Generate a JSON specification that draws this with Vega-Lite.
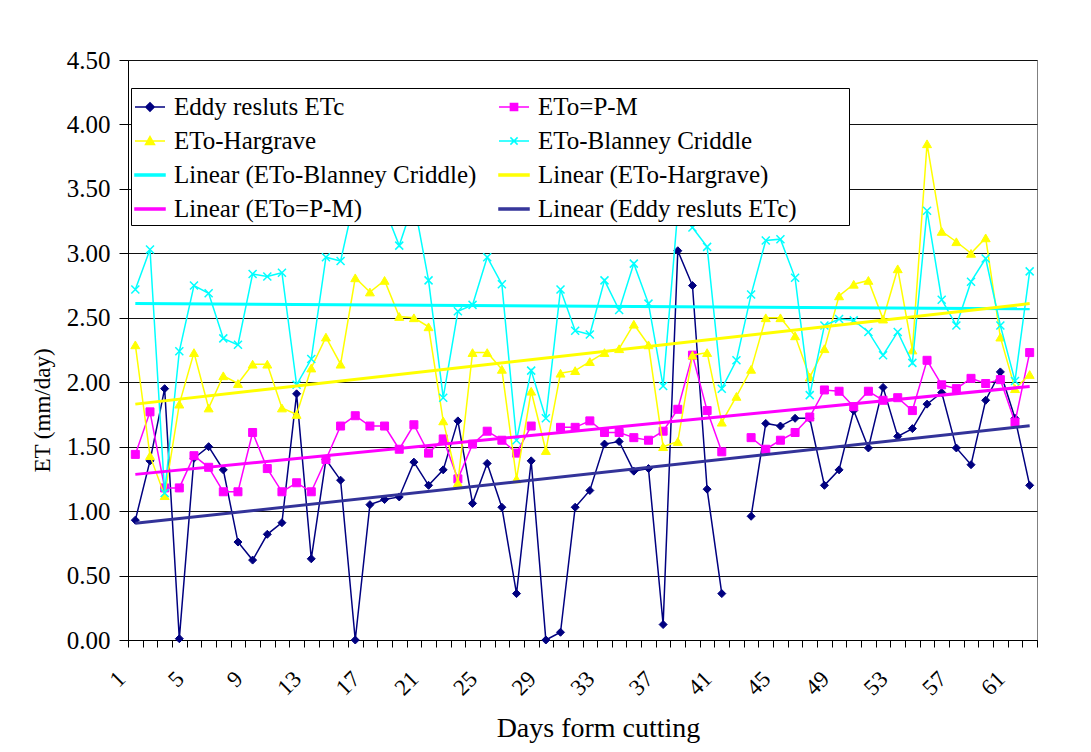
{
  "$schema": "https://vega.github.io/schema/vega-lite/v6.json",
  "width": 909,
  "height": 580,
  "autosize": {"type": "none"},
  "padding": {"left": 128, "top": 60, "right": 54, "bottom": 112},
  "background": "white",
  "config": {
    "font": "Liberation Serif",
    "view": {"stroke": "#808080", "strokeWidth": 1},
    "axis": {
      "labelFont": "Liberation Serif",
      "titleFont": "Liberation Serif",
      "labelColor": "#000000",
      "titleColor": "#000000",
      "titleFontWeight": "normal",
      "domainColor": "#000000",
      "domainWidth": 1,
      "tickColor": "#000000",
      "tickWidth": 1
    },
    "legend": {
      "orient": "none",
      "legendX": 3,
      "legendY": 28,
      "columns": 2,
      "gridAlign": "each",
      "fillColor": "white",
      "strokeColor": "#000000",
      "strokeWidth": 1,
      "padding": 3,
      "columnPadding": 19,
      "rowPadding": 5,
      "symbolSize": 900,
      "symbolStrokeWidth": 1.5,
      "symbolOpacity": 1,
      "labelFont": "Liberation Serif",
      "labelFontSize": 25,
      "labelColor": "#000000",
      "labelOffset": 8,
      "labelLimit": 600,
      "titleOrient": "right",
      "titleOpacity": 0,
      "titleFontSize": 15,
      "titlePadding": 6,
      "titleFont": "Liberation Serif"
    }
  },
  "resolve": {"legend": {"fill": "independent", "stroke": "independent", "shape": "independent"}},
  "datasets": {
    "et": [
      {"day": 1, "eddy": 0.93, "pm": 1.44, "hg": 2.29, "bc": 2.72},
      {"day": 2, "eddy": 1.39, "pm": 1.77, "hg": 1.43, "bc": 3.03},
      {"day": 3, "eddy": 1.95, "pm": 1.18, "hg": 1.12, "bc": 1.14},
      {"day": 4, "eddy": 0.01, "pm": 1.18, "hg": 1.83, "bc": 2.24},
      {"day": 5, "eddy": 1.41, "pm": 1.43, "hg": 2.23, "bc": 2.75},
      {"day": 6, "eddy": 1.50, "pm": 1.34, "hg": 1.80, "bc": 2.69},
      {"day": 7, "eddy": 1.32, "pm": 1.15, "hg": 2.05, "bc": 2.34},
      {"day": 8, "eddy": 0.76, "pm": 1.15, "hg": 1.99, "bc": 2.29},
      {"day": 9, "eddy": 0.62, "pm": 1.61, "hg": 2.14, "bc": 2.84},
      {"day": 10, "eddy": 0.82, "pm": 1.33, "hg": 2.14, "bc": 2.82},
      {"day": 11, "eddy": 0.91, "pm": 1.15, "hg": 1.80, "bc": 2.85},
      {"day": 12, "eddy": 1.91, "pm": 1.22, "hg": 1.75, "bc": 1.98},
      {"day": 13, "eddy": 0.63, "pm": 1.15, "hg": 2.11, "bc": 2.18},
      {"day": 14, "eddy": 1.40, "pm": 1.40, "hg": 2.35, "bc": 2.97},
      {"day": 15, "eddy": 1.24, "pm": 1.66, "hg": 2.14, "bc": 2.94},
      {"day": 16, "eddy": 0.00, "pm": 1.74, "hg": 2.81, "bc": 3.45},
      {"day": 17, "eddy": 1.05, "pm": 1.66, "hg": 2.70, "bc": 3.25},
      {"day": 18, "eddy": 1.09, "pm": 1.66, "hg": 2.79, "bc": 3.35},
      {"day": 19, "eddy": 1.11, "pm": 1.48, "hg": 2.51, "bc": 3.06},
      {"day": 20, "eddy": 1.38, "pm": 1.67, "hg": 2.50, "bc": 3.40},
      {"day": 21, "eddy": 1.20, "pm": 1.45, "hg": 2.43, "bc": 2.79},
      {"day": 22, "eddy": 1.32, "pm": 1.56, "hg": 1.70, "bc": 1.88},
      {"day": 23, "eddy": 1.70, "pm": 1.25, "hg": 1.22, "bc": 2.55},
      {"day": 24, "eddy": 1.06, "pm": 1.52, "hg": 2.23, "bc": 2.60},
      {"day": 25, "eddy": 1.37, "pm": 1.62, "hg": 2.23, "bc": 2.97},
      {"day": 26, "eddy": 1.03, "pm": 1.55, "hg": 2.10, "bc": 2.76},
      {"day": 27, "eddy": 0.36, "pm": 1.45, "hg": 1.25, "bc": 1.55},
      {"day": 28, "eddy": 1.39, "pm": 1.66, "hg": 1.93, "bc": 2.09},
      {"day": 29, "eddy": 0.00, "pm": null, "hg": 1.47, "bc": 1.72},
      {"day": 30, "eddy": 0.06, "pm": 1.65, "hg": 2.07, "bc": 2.72},
      {"day": 31, "eddy": 1.03, "pm": 1.65, "hg": 2.09, "bc": 2.40},
      {"day": 32, "eddy": 1.16, "pm": 1.70, "hg": 2.16, "bc": 2.37},
      {"day": 33, "eddy": 1.52, "pm": 1.61, "hg": 2.23, "bc": 2.79},
      {"day": 34, "eddy": 1.54, "pm": 1.61, "hg": 2.26, "bc": 2.56},
      {"day": 35, "eddy": 1.31, "pm": 1.57, "hg": 2.45, "bc": 2.92},
      {"day": 36, "eddy": 1.33, "pm": 1.55, "hg": 2.29, "bc": 2.61},
      {"day": 37, "eddy": 0.12, "pm": 1.62, "hg": 1.50, "bc": 1.97},
      {"day": 38, "eddy": 3.02, "pm": 1.79, "hg": 1.54, "bc": 3.33},
      {"day": 39, "eddy": 2.75, "pm": 2.21, "hg": 2.21, "bc": 3.20},
      {"day": 40, "eddy": 1.17, "pm": 1.78, "hg": 2.23, "bc": 3.05},
      {"day": 41, "eddy": 0.36, "pm": 1.46, "hg": 1.69, "bc": 1.95},
      {"day": 42, "eddy": null, "pm": null, "hg": 1.89, "bc": 2.17},
      {"day": 43, "eddy": 0.96, "pm": 1.57, "hg": 2.10, "bc": 2.68},
      {"day": 44, "eddy": 1.68, "pm": 1.48, "hg": 2.50, "bc": 3.10},
      {"day": 45, "eddy": 1.66, "pm": 1.55, "hg": 2.50, "bc": 3.11},
      {"day": 46, "eddy": 1.72, "pm": 1.61, "hg": 2.36, "bc": 2.81},
      {"day": 47, "eddy": 1.72, "pm": 1.73, "hg": 2.04, "bc": 1.90},
      {"day": 48, "eddy": 1.20, "pm": 1.94, "hg": 2.26, "bc": 2.44},
      {"day": 49, "eddy": 1.32, "pm": 1.93, "hg": 2.67, "bc": 2.49},
      {"day": 50, "eddy": 1.78, "pm": 1.81, "hg": 2.76, "bc": 2.48},
      {"day": 51, "eddy": 1.49, "pm": 1.93, "hg": 2.79, "bc": 2.39},
      {"day": 52, "eddy": 1.96, "pm": 1.86, "hg": 2.49, "bc": 2.21},
      {"day": 53, "eddy": 1.58, "pm": 1.88, "hg": 2.88, "bc": 2.39},
      {"day": 54, "eddy": 1.64, "pm": 1.78, "hg": 2.25, "bc": 2.15},
      {"day": 55, "eddy": 1.83, "pm": 2.17, "hg": 3.85, "bc": 3.33},
      {"day": 56, "eddy": 1.92, "pm": 1.98, "hg": 3.17, "bc": 2.64},
      {"day": 57, "eddy": 1.49, "pm": 1.95, "hg": 3.09, "bc": 2.44},
      {"day": 58, "eddy": 1.36, "pm": 2.03, "hg": 3.00, "bc": 2.78},
      {"day": 59, "eddy": 1.86, "pm": 1.99, "hg": 3.12, "bc": 2.96},
      {"day": 60, "eddy": 2.08, "pm": 2.02, "hg": 2.35, "bc": 2.44},
      {"day": 61, "eddy": 1.72, "pm": 1.69, "hg": 1.95, "bc": 2.01},
      {"day": 62, "eddy": 1.20, "pm": 2.23, "hg": 2.06, "bc": 2.86}
    ],
    "trend": [
      {"day": 1, "series": "lbc", "value": 2.61},
      {"day": 62, "series": "lbc", "value": 2.57},
      {"day": 1, "series": "lhg", "value": 1.83},
      {"day": 62, "series": "lhg", "value": 2.61},
      {"day": 1, "series": "lpm", "value": 1.285},
      {"day": 62, "series": "lpm", "value": 1.967},
      {"day": 1, "series": "leddy", "value": 0.905},
      {"day": 62, "series": "leddy", "value": 1.662}
    ],
    "legendrows": [
      {"series": "eddy"}, {"series": "pm"}, {"series": "hg"}, {"series": "bc"},
      {"series": "lbc"}, {"series": "lhg"}, {"series": "lpm"}, {"series": "leddy"}
    ]
  },
  "layer": [
    {
      "data": {"name": "et"},
      "transform": [{"fold": ["eddy", "pm", "hg", "bc"], "as": ["series", "value"]}, {"filter": "datum.series == 'eddy'"}],
      "mark": {"type": "line", "strokeWidth": 1.5, "invalid": "break-paths-filter-domains"},
      "encoding": {
        "x": {
          "field": "day", "type": "ordinal",
          "scale": {"type": "band", "paddingInner": 0, "paddingOuter": 0},
          "title": "Days form cutting",
          "axis": {
            "tickBand": "extent",
            "tickSize": 7,
            "labelAngle": -45,
            "labelAlign": "right",
            "labelBaseline": "middle",
            "labelFontSize": 23,
            "labelPadding": 28,
            "labelOffset": -14,
            "labelOverlap": false,
            "labelExpr": "(datum.value - 1) % 4 == 0 ? datum.label : ''",
            "titleFontSize": 28,
            "titleX": 470,
            "titleY": 96,
            "titleAlign": "center",
            "titleBaseline": "alphabetic"
          }
        },
        "y": {
          "field": "value", "type": "quantitative",
          "scale": {"domain": [0, 4.5], "nice": false, "zero": true},
          "title": "ET (mm/day)",
          "axis": {
            "values": [0, 0.5, 1, 1.5, 2, 2.5, 3, 3.5, 4, 4.5],
            "format": ".2f",
            "grid": true,
            "gridColor": "#111111",
            "gridWidth": 1,
            "tickSize": 9,
            "labelFontSize": 25,
            "labelPadding": 9,
            "titleFontSize": 23,
            "titleX": -86,
            "titleY": 350,
            "titleAngle": -90,
            "titleAlign": "center",
            "titleBaseline": "middle"
          }
        },
        "stroke": {"field": "series", "type": "nominal", "legend": null,
          "scale": {"domain": ["eddy", "hg", "lbc", "lpm", "pm", "bc", "lhg", "leddy"], "range": ["#000080", "#FFFF00", "#00FFFF", "#FF00FF", "#FF00FF", "#00FFFF", "#FFFF00", "#333399"]}}
      }
    },
    {
      "data": {"name": "et"},
      "transform": [{"fold": ["eddy", "pm", "hg", "bc"], "as": ["series", "value"]}, {"filter": "datum.series == 'eddy' && datum.value != null"}],
      "mark": {"type": "point", "shape": "diamond", "filled": true, "size": 64, "opacity": 1, "strokeWidth": 1},
      "encoding": {
        "x": {"field": "day", "type": "ordinal"},
        "y": {"field": "value", "type": "quantitative"},
        "fill": {"field": "series", "type": "nominal", "legend": null,
          "scale": {"domain": ["eddy", "hg", "lbc", "lpm", "pm", "bc", "lhg", "leddy"], "range": ["#000080", "#FFFF00", "#00FFFF", "#FF00FF", "#FF00FF", "#00FFFF", "#FFFF00", "#333399"]}},
        "stroke": {"field": "series", "type": "nominal", "legend": null}
      }
    },
    {
      "data": {"name": "et"},
      "transform": [{"fold": ["eddy", "pm", "hg", "bc"], "as": ["series", "value"]}, {"filter": "datum.series == 'pm'"}],
      "mark": {"type": "line", "strokeWidth": 1.5, "invalid": "break-paths-filter-domains"},
      "encoding": {
        "x": {"field": "day", "type": "ordinal"},
        "y": {"field": "value", "type": "quantitative"},
        "stroke": {"field": "series", "type": "nominal", "legend": null}
      }
    },
    {
      "data": {"name": "et"},
      "transform": [{"fold": ["eddy", "pm", "hg", "bc"], "as": ["series", "value"]}, {"filter": "datum.series == 'pm' && datum.value != null"}],
      "mark": {"type": "point", "shape": "square", "filled": true, "size": 64, "opacity": 1, "strokeWidth": 1},
      "encoding": {
        "x": {"field": "day", "type": "ordinal"},
        "y": {"field": "value", "type": "quantitative"},
        "fill": {"field": "series", "type": "nominal", "legend": null},
        "stroke": {"field": "series", "type": "nominal", "legend": null}
      }
    },
    {
      "data": {"name": "et"},
      "transform": [{"fold": ["eddy", "pm", "hg", "bc"], "as": ["series", "value"]}, {"filter": "datum.series == 'hg'"}],
      "mark": {"type": "line", "strokeWidth": 1.5, "invalid": "break-paths-filter-domains"},
      "encoding": {
        "x": {"field": "day", "type": "ordinal"},
        "y": {"field": "value", "type": "quantitative"},
        "stroke": {"field": "series", "type": "nominal", "legend": null}
      }
    },
    {
      "data": {"name": "et"},
      "transform": [{"fold": ["eddy", "pm", "hg", "bc"], "as": ["series", "value"]}, {"filter": "datum.series == 'hg' && datum.value != null"}],
      "mark": {"type": "point", "shape": "triangle-up", "filled": true, "size": 80, "opacity": 1, "strokeWidth": 1},
      "encoding": {
        "x": {"field": "day", "type": "ordinal"},
        "y": {"field": "value", "type": "quantitative"},
        "fill": {"field": "series", "type": "nominal", "legend": null},
        "stroke": {"field": "series", "type": "nominal", "legend": null}
      }
    },
    {
      "data": {"name": "et"},
      "transform": [{"fold": ["eddy", "pm", "hg", "bc"], "as": ["series", "value"]}, {"filter": "datum.series == 'bc'"}],
      "mark": {"type": "line", "strokeWidth": 1.5, "invalid": "break-paths-filter-domains"},
      "encoding": {
        "x": {"field": "day", "type": "ordinal"},
        "y": {"field": "value", "type": "quantitative"},
        "stroke": {"field": "series", "type": "nominal", "legend": null}
      }
    },
    {
      "data": {"name": "et"},
      "transform": [{"fold": ["eddy", "pm", "hg", "bc"], "as": ["series", "value"]}, {"filter": "datum.series == 'bc' && datum.value != null"}],
      "mark": {"type": "point", "shape": "M-1,-1L1,1M-1,1L1,-1", "filled": false, "size": 64, "opacity": 1, "strokeWidth": 1.5},
      "encoding": {
        "x": {"field": "day", "type": "ordinal"},
        "y": {"field": "value", "type": "quantitative"},
        "stroke": {"field": "series", "type": "nominal", "legend": null}
      }
    },
    {
      "data": {"name": "trend"},
      "mark": {"type": "line", "strokeWidth": 3},
      "encoding": {
        "x": {"field": "day", "type": "ordinal"},
        "y": {"field": "value", "type": "quantitative"},
        "stroke": {"field": "series", "type": "nominal", "legend": null}
      }
    },
    {
      "data": {"name": "legendrows"},
      "mark": {"type": "point", "filled": true, "opacity": 0},
      "encoding": {
        "fill": {"field": "series", "type": "nominal",
          "scale": {"domain": ["eddy", "hg", "lbc", "lpm", "pm", "bc", "lhg", "leddy"], "range": ["#000080", "#FFFF00", "#00FFFF", "#FF00FF", "#FF00FF", "#00FFFF", "#FFFF00", "#333399"]},
          "legend": {"title": "MMM", "labelExpr": "datum.label == 'eddy' ? 'Eddy resluts ETc' : datum.label == 'pm' ? 'ETo=P-M' : datum.label == 'hg' ? 'ETo-Hargrave' : datum.label == 'bc' ? 'ETo-Blanney Criddle' : datum.label == 'lbc' ? 'Linear (ETo-Blanney Criddle)' : datum.label == 'lhg' ? 'Linear (ETo-Hargrave)' : datum.label == 'lpm' ? 'Linear (ETo=P-M)' : 'Linear (Eddy resluts ETc)'"}},
        "stroke": {"field": "series", "type": "nominal",
          "scale": {"domain": ["eddy", "hg", "lbc", "lpm", "pm", "bc", "lhg", "leddy"], "range": ["#000080", "#FFFF00", "#00FFFF", "#FF00FF", "#FF00FF", "#00FFFF", "#FFFF00", "#333399"]},
          "legend": {"title": "MMM", "labelExpr": "datum.label == 'eddy' ? 'Eddy resluts ETc' : datum.label == 'pm' ? 'ETo=P-M' : datum.label == 'hg' ? 'ETo-Hargrave' : datum.label == 'bc' ? 'ETo-Blanney Criddle' : datum.label == 'lbc' ? 'Linear (ETo-Blanney Criddle)' : datum.label == 'lhg' ? 'Linear (ETo-Hargrave)' : datum.label == 'lpm' ? 'Linear (ETo=P-M)' : 'Linear (Eddy resluts ETc)'"}},
        "shape": {"field": "series", "type": "nominal",
          "scale": {"domain": ["eddy", "hg", "lbc", "lpm", "pm", "bc", "lhg", "leddy"],
            "range": [
              "M-1,0H1M0,-0.28L0.28,0L0,0.28L-0.28,0Z",
              "M-1,0H1M0,-0.3L0.3,0.24H-0.3Z",
              "M-1,-0.06H1V0.06H-1Z",
              "M-1,-0.06H1V0.06H-1Z",
              "M-1,0H1M-0.24,-0.24H0.24V0.24H-0.24Z",
              "M-1,0H1M-0.24,-0.24L0.24,0.24M-0.24,0.24L0.24,-0.24",
              "M-1,-0.06H1V0.06H-1Z",
              "M-1,-0.06H1V0.06H-1Z"
            ]},
          "legend": {"title": "MMM", "labelExpr": "datum.label == 'eddy' ? 'Eddy resluts ETc' : datum.label == 'pm' ? 'ETo=P-M' : datum.label == 'hg' ? 'ETo-Hargrave' : datum.label == 'bc' ? 'ETo-Blanney Criddle' : datum.label == 'lbc' ? 'Linear (ETo-Blanney Criddle)' : datum.label == 'lhg' ? 'Linear (ETo-Hargrave)' : datum.label == 'lpm' ? 'Linear (ETo=P-M)' : 'Linear (Eddy resluts ETc)'"}}
      }
    }
  ]
}
